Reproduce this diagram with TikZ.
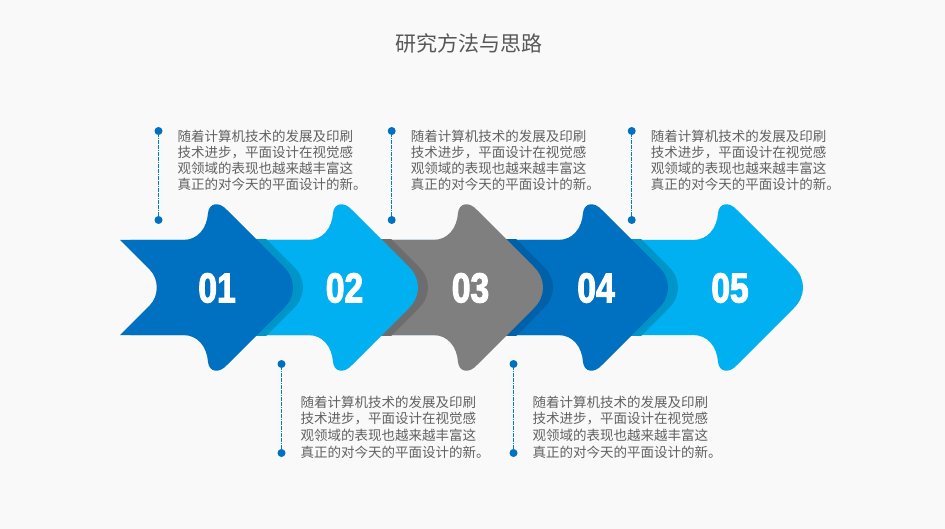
\documentclass[tikz,border=0pt]{standalone}
\usepackage{xcolor}
\usepackage{fontspec}
\usepackage{tikz}
\usetikzlibrary{positioning}
\setmainfont{Noto Sans CJK SC}
\newfontfamily\numfont[FakeStretch=0.8,BoldFeatures={FakeBold=2.4}]{Liberation Sans}

\definecolor{deepblue}{HTML}{0070C0}
\definecolor{skyblue}{HTML}{00B0F0}
\definecolor{midgray}{HTML}{7F7F7F}
\definecolor{bandblue}{HTML}{0095C9}
\definecolor{banddeep}{HTML}{0060A8}
\definecolor{bandgray}{HTML}{6D6D6D}
\definecolor{paper}{HTML}{F9F9F9}

\newcommand{\arrowpath}{(120,240) -- (183,240) .. controls (198,240) and (207,228) .. (208,213)
    .. controls (209,203) and (219,201) .. (227,210) -- (284,267)
    .. controls (296,279) and (296,296) .. (284,308) -- (227,365)
    .. controls (219,374) and (209,372) .. (208,362)
    .. controls (207,347) and (198,335) .. (183,335) -- (120,335) -- (150,305)
    .. controls (159,296) and (159,279) .. (150,270) -- cycle}

\tikzset{
    numlabel/.style={text=white, inner sep=0pt, font=\numfont\bfseries\fontsize{42}{42}\selectfont},
    enddot/.style={circle, fill=deepblue, inner sep=0pt, minimum size=8pt},
    dotline/.style={deepblue!80!skyblue, line width=1.2pt, dash pattern=on 1.8pt off 0.6pt},
    noteblock/.style={text=black!62, inner sep=0pt, align=left, font=\fontsize{13.5}{#1}\selectfont},
}

\begin{document}
\begin{tikzpicture}[x=1pt, y=-1pt]
    \useasboundingbox (0,0) rectangle (945,529);
    \fill[paper] (0,0) rectangle (945,529);

    % Title - top center
    \node [text=black!66, inner sep=0pt, font=\fontsize{21}{21}\selectfont] (title) at (468.5,43) {研究方法与思路};

    % Arrows - last one first, each earlier arrow lies on the later one
    \foreach \shiftx/\prevx/\arrowcol/\bandcol in {510/385/skyblue/bandblue, 375/260/deepblue/banddeep, 250/135/midgray/bandgray, 125/10/skyblue/bandblue} {
        \fill[\arrowcol, xshift=\shiftx] \arrowpath;
        \begin{scope}
            \clip (0,240) rectangle (945,335);
            \fill[\bandcol, xshift=\prevx] \arrowpath;
        \end{scope}
    }
    \fill[deepblue] \arrowpath;

    % Arrow numbers
    \node [numlabel] (num1) at (217,288) {01};
    \node [numlabel] (num2) at (344.5,288) {02};
    \node [numlabel] (num3) at (470.5,288) {03};
    \node [numlabel] (num4) at (596,288) {04};
    \node [numlabel] (num5) at (730,288) {05};

    % Dotted leaders - top row
    \node [enddot] (topa1) at (158.5,131) {};
    \node [enddot] (topa2) at (158.5,220) {};
    \node [enddot] (topb1) at (391.7,131) {};
    \node [enddot] (topb2) at (391.7,220) {};
    \node [enddot] (topc1) at (631.7,131) {};
    \node [enddot] (topc2) at (631.7,220) {};

    % Dotted leaders - bottom row
    \node [enddot] (lowa1) at (281.5,364) {};
    \node [enddot] (lowa2) at (281.5,453) {};
    \node [enddot] (lowb1) at (513.5,364) {};
    \node [enddot] (lowb2) at (513.5,453) {};

    \draw [dotline] (topa1) -- (topa2);
    \draw [dotline] (topb1) -- (topb2);
    \draw [dotline] (topc1) -- (topc2);
    \draw [dotline] (lowa1) -- (lowa2);
    \draw [dotline] (lowb1) -- (lowb2);

    % Text blocks
    \node [noteblock=16, below right=-4pt and 16pt of topa1.south east] (notea) {
        随着计算机技术的发展及印刷\\
        技术进步，平面设计在视觉感\\
        观领域的表现也越来越丰富这\\
        真正的对今天的平面设计的新。
    };
    \node [noteblock=16, below right=-4pt and 16pt of topb1.south east] (noteb) {
        随着计算机技术的发展及印刷\\
        技术进步，平面设计在视觉感\\
        观领域的表现也越来越丰富这\\
        真正的对今天的平面设计的新。
    };
    \node [noteblock=16, below right=-4pt and 16pt of topc1.south east] (notec) {
        随着计算机技术的发展及印刷\\
        技术进步，平面设计在视觉感\\
        观领域的表现也越来越丰富这\\
        真正的对今天的平面设计的新。
    };
    \node [noteblock=16.7, below right=28.5pt and 16pt of lowa1.south east] (noted) {
        随着计算机技术的发展及印刷\\
        技术进步，平面设计在视觉感\\
        观领域的表现也越来越丰富这\\
        真正的对今天的平面设计的新。
    };
    \node [noteblock=16.7, below right=28.5pt and 16pt of lowb1.south east] (notee) {
        随着计算机技术的发展及印刷\\
        技术进步，平面设计在视觉感\\
        观领域的表现也越来越丰富这\\
        真正的对今天的平面设计的新。
    };
\end{tikzpicture}
\end{document}
